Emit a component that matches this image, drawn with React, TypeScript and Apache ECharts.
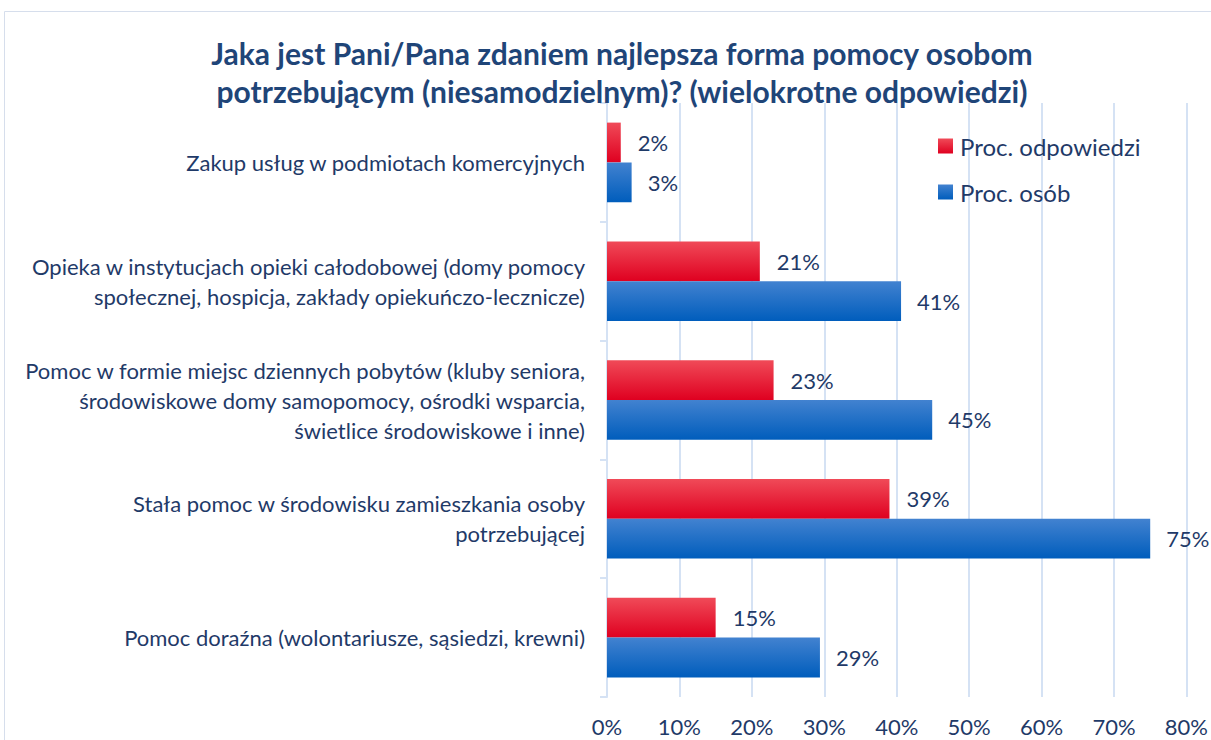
import React, { useEffect, useRef } from "react";
import * as echarts from "echarts";

const categories = [
  "Zakup usług w podmiotach komercyjnych",
  "Opieka w instytucjach opieki całodobowej (domy pomocy\nspołecznej, hospicja, zakłady opiekuńczo-lecznicze)",
  "Pomoc w formie miejsc dziennych pobytów (kluby seniora,\nśrodowiskowe domy samopomocy, ośrodki wsparcia,\nświetlice środowiskowe i inne)",
  "Stała pomoc w środowisku zamieszkania osoby\npotrzebującej",
  "Pomoc doraźna (wolontariusze, sąsiedzi, krewni)",
];
const procOdpowiedzi = [1.9, 21.1, 23.0, 39.0, 15.0];
const procOsob = [3.4, 40.6, 44.9, 75.0, 29.4];
const seriesNames = ["Proc. odpowiedzi", "Proc. osób"];
const titleText =
  "Jaka jest Pani/Pana zdaniem najlepsza forma pomocy osobom\npotrzebującym (niesamodzielnym)? (wielokrotne odpowiedzi)";

const FONT = "Lato";
const TEXT = "#1F3A68";

export default function App() {
  const ref = useRef<HTMLDivElement>(null);
  useEffect(() => {
    if (!ref.current) return;
    const chart = echarts.init(ref.current, null, { renderer: "svg" });
    const redGrad = new echarts.graphic.LinearGradient(0, 0, 0, 1, [
      { offset: 0, color: "#F04A58" },
      { offset: 1, color: "#DF0020" },
    ]);
    const blueGrad = new echarts.graphic.LinearGradient(0, 0, 0, 1, [
      { offset: 0, color: "#4282D0" },
      { offset: 1, color: "#005DBC" },
    ]);
    chart.setOption({
      animation: false,
      backgroundColor: "#ffffff",
      textStyle: { fontFamily: FONT },
      title: {
        text: titleText,
        left: 617,
        textAlign: "center",
        top: 29,
        textStyle: {
          fontFamily: FONT,
          fontWeight: "bold",
          fontSize: 30,
          lineHeight: 38,
          color: "#1F4578",
        },
      },
      graphic: [
        {
          type: "rect",
          shape: { x: 4.5, y: 11.5, width: 1230, height: 760 },
          style: { fill: "none", stroke: "#D6DEEC", lineWidth: 1 },
          silent: true,
        },
      ],
      legend: {
        orient: "vertical",
        left: 938,
        top: 134,
        padding: 0,
        itemWidth: 15,
        itemHeight: 15,
        itemGap: 22,
        icon: "rect",
        textStyle: { fontFamily: FONT, fontSize: 24, lineHeight: 24, color: TEXT, padding: [0, 0, 0, 2] },
        data: seriesNames,
      },
      grid: { left: 607, right: 24, top: 103, bottom: 43, containLabel: false },
      xAxis: {
        type: "value",
        min: 0,
        max: 80,
        interval: 10,
        axisLine: { show: false },
        axisTick: { show: false },
        splitLine: { show: true, lineStyle: { color: "#D5E2F4", width: 2 } },
        axisLabel: {
          formatter: (v: number) => v + "%",
          fontFamily: FONT,
          fontSize: 22,
          color: TEXT,
          margin: 18,
        },
      },
      yAxis: {
        type: "category",
        inverse: true,
        data: categories,
        axisLine: { show: true, lineStyle: { color: "#D5E2F4", width: 2 } },
        axisTick: { show: true, length: 7, lineStyle: { color: "#D5E2F4", width: 2 } },
        axisLabel: {
          fontFamily: FONT,
          fontSize: 22,
          lineHeight: 30,
          color: TEXT,
          margin: 22,
          align: "right",
        },
      },
      series: [
        {
          name: seriesNames[0],
          type: "bar",
          data: procOdpowiedzi,
          barGap: "0%",
          barCategoryGap: "33%",
          itemStyle: { color: redGrad },
          label: {
            show: true,
            position: "right",
            distance: 17,
            formatter: (p: any) => Math.round(p.value) + "%",
            fontFamily: FONT,
            fontSize: 22,
            color: TEXT,
          },
        },
        {
          name: seriesNames[1],
          type: "bar",
          data: procOsob,
          barGap: "0%",
          barCategoryGap: "33%",
          itemStyle: { color: blueGrad },
          label: {
            show: true,
            position: "right",
            distance: 16,
            formatter: (p: any) => Math.round(p.value) + "%",
            fontFamily: FONT,
            fontSize: 22,
            color: TEXT,
          },
        },
      ],
    });
    return () => chart.dispose();
  }, []);
  return (
    <div
      ref={ref}
      style={{ position: "fixed", left: 0, top: 0, width: 1211, height: 740 }}
    />
  );
}
